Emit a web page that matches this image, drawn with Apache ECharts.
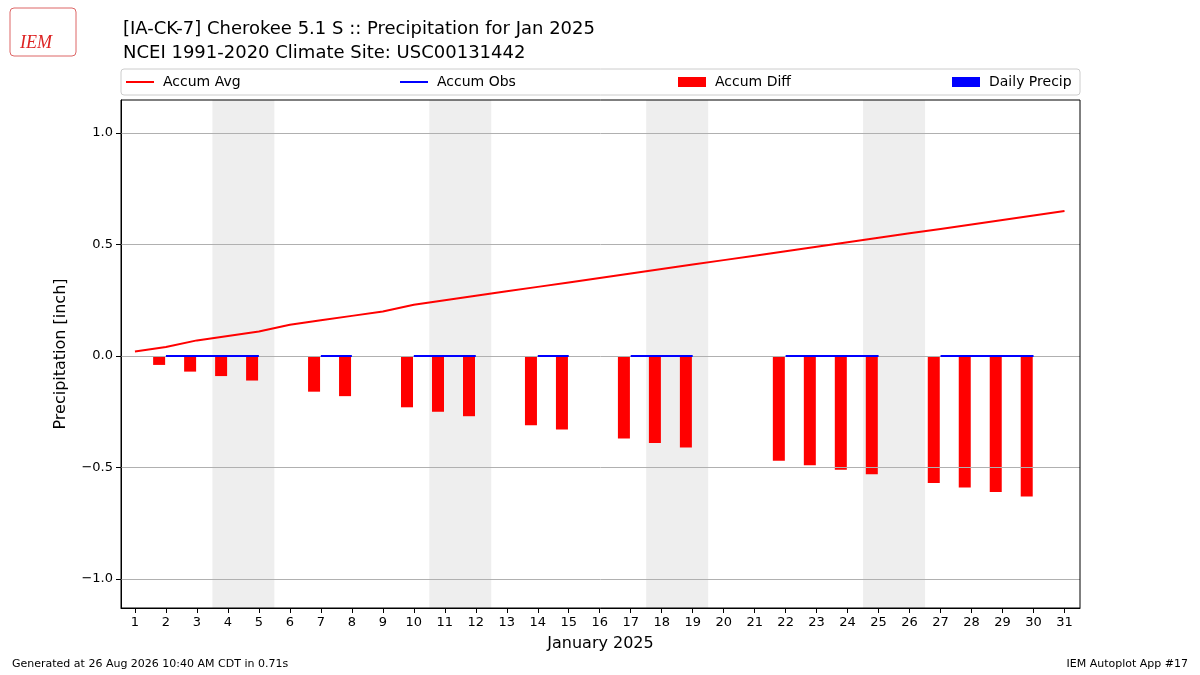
<!DOCTYPE html>
<html><head><meta charset="utf-8">
<script src="https://cdn.jsdelivr.net/npm/echarts@6/dist/echarts.min.js"></script>
<style>html,body{margin:0;padding:0;background:#fff}#c{width:1200px;height:675px}</style>
</head><body><div id="c"></div>
<script>
const days = Array.from({length:31},(_,i)=>i+1);
const accumAvg = [0.02,0.04,0.07,0.09,0.11,0.14,0.16,0.18,0.20,0.23,0.25,0.27,0.29,0.31,0.33,0.35,0.37,0.39,0.41,0.43,0.45,0.47,0.49,0.51,0.53,0.55,0.57,0.59,0.61,0.63,0.65];
const accumObs = [null,0,0,0,0,null,0,0,null,0,0,0,null,0,0,null,0,0,0,null,null,0,0,0,0,null,0,0,0,0,null];
const diffDays = [2,3,4,5,7,8,10,11,12,14,15,17,18,19,22,23,24,25,27,28,29,30];
const diffVals = [-0.04,-0.07,-0.09,-0.11,-0.16,-0.18,-0.23,-0.25,-0.27,-0.31,-0.33,-0.37,-0.39,-0.41,-0.47,-0.49,-0.51,-0.53,-0.57,-0.59,-0.61,-0.63];
const weekends = [[3.5,5.5],[10.5,12.5],[17.5,19.5],[24.5,26.5]];
const yTicks = [-1,-0.5,0,0.5,1];
const yLabels = {"-1":"\u22121.0","-0.5":"\u22120.5","0":"0.0","0.5":"0.5","1":"1.0"};

const chart = echarts.init(document.getElementById('c'));
const F = 'DejaVu Sans';
const legendItem = (name,left,h)=>({show:true,data:[name],left:left,top:75,icon:'rect',itemWidth:28,itemHeight:h,
  textStyle:{fontFamily:F,fontSize:14,color:'#000',padding:[0,0,0,4]},selectedMode:false,padding:0});
chart.setOption({
  animation:false,
  textStyle:{fontFamily:F},
  title:[{text:'[IA-CK-7] Cherokee 5.1 S :: Precipitation for Jan 2025\nNCEI 1991-2020 Climate Site: USC00131442',
    left:118,top:12,textStyle:{fontFamily:F,fontSize:18,fontWeight:'normal',lineHeight:24,color:'#000'}}],
  legend:[legendItem('Accum Avg',126,2),legendItem('Accum Obs',400,2),legendItem('Accum Diff',678,10),legendItem('Daily Precip',952,10)],
  graphic:[
    {type:'rect',shape:{x:121,y:69,width:959,height:26,r:3},style:{fill:'none',stroke:'#ccc',lineWidth:1}},
    {type:'rect',z:100,shape:{x:121,y:100,width:959,height:508},style:{fill:'none',stroke:'#000',lineWidth:1}},
    {type:'text',left:20,top:34,style:{text:'IEM',fill:'#d22',font:'italic 18px serif'}},
    {type:'rect',shape:{x:10,y:8,width:66,height:48,r:4},style:{fill:'none',stroke:'#d66',lineWidth:1}},
    {type:'text',left:12,top:659,style:{text:'Generated at 26 Aug 2026 10:40 AM CDT in 0.71s',fill:'#000',font:'11px DejaVu Sans'}},
    {type:'text',right:12,top:659,style:{text:'IEM Autoplot App #17',fill:'#000',font:'11px DejaVu Sans',align:'right'}}
  ],
  grid:{left:121,right:120,top:100,bottom:67},
  xAxis:{type:'value',min:0.55,max:31.5,name:'January 2025',nameLocation:'middle',nameGap:28,
    nameTextStyle:{fontSize:16,color:'#000'},
    axisLine:{onZero:false,lineStyle:{color:'#000'}},axisTick:{customValues:days,length:5,lineStyle:{color:'#000'}},
    axisLabel:{customValues:days,color:'#000',fontSize:13},splitLine:{show:false}},
  yAxis:{type:'value',min:-1.13,max:1.148,name:'Precipitation [inch]',nameLocation:'middle',nameGap:52,
    nameTextStyle:{fontSize:16,color:'#000'},
    axisLine:{show:true,onZero:false,lineStyle:{color:'#000'}},axisTick:{show:true,customValues:yTicks,length:5,lineStyle:{color:'#000'}},
    axisLabel:{customValues:yTicks,color:'#000',fontSize:13,formatter:v=>yLabels[String(Math.round(v*10)/10)]||''},
    splitLine:{show:false}},
  series:[
    {name:'Accum Avg',type:'line',data:days.map((d,i)=>[d,accumAvg[i]]),showSymbol:false,
      lineStyle:{color:'#f00',width:2},itemStyle:{color:'#f00'},z:5,
      markArea:{silent:true,itemStyle:{color:'#eeeeee'},data:weekends.map(w=>[{xAxis:w[0]},{xAxis:w[1]}])},
      markLine:{silent:true,symbol:'none',label:{show:false},lineStyle:{color:'#b0b0b0',type:'solid',width:1},
        data:yTicks.map(v=>({yAxis:v}))}},
    {name:'Accum Obs',type:'line',data:days.map((d,i)=>[d,accumObs[i]]),showSymbol:false,connectNulls:false,
      lineStyle:{color:'#00f',width:2},itemStyle:{color:'#00f'},z:6},
    {name:'Accum Diff',type:'bar',data:diffDays.map((d,i)=>[d-0.2,diffVals[i]]),barWidth:12,
      itemStyle:{color:'#f00'},z:4},
    {name:'Daily Precip',type:'bar',data:[],itemStyle:{color:'#00f'}}
  ]
});
</script></body></html>
